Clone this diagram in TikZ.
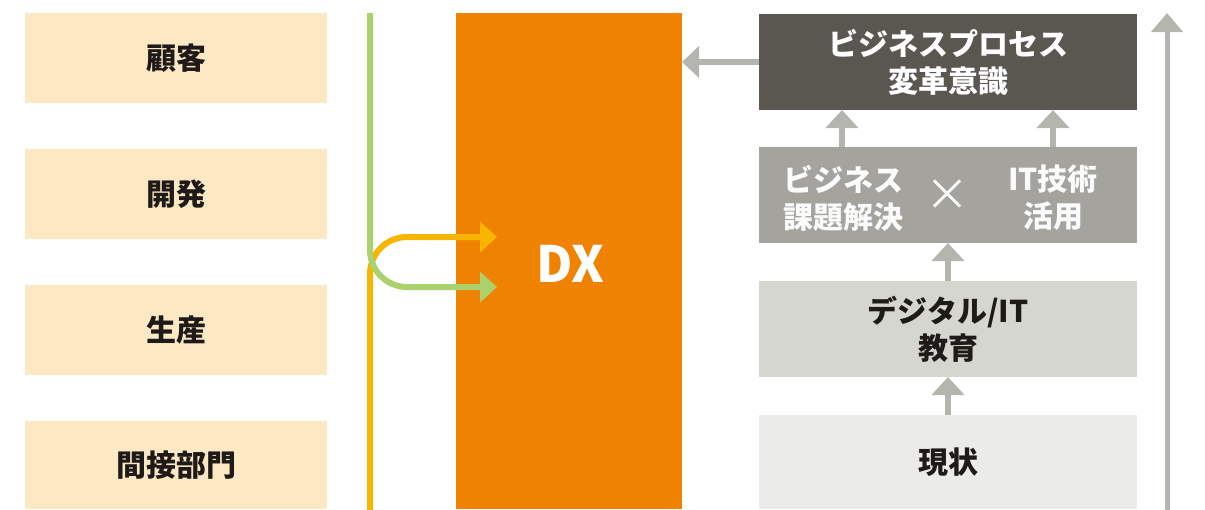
\documentclass[tikz,border=0pt]{standalone}
\usepackage{fontspec}
\setmainfont{Noto Sans CJK JP}
\usetikzlibrary{arrows.meta}
\definecolor{cream}{HTML}{FDE8C4}
\definecolor{dxorange}{HTML}{EF8200}
\definecolor{lgreen}{HTML}{ABD16C}
\definecolor{lyellow}{HTML}{F8B500}
\definecolor{dgray}{HTML}{5A5750}
\definecolor{mgray}{HTML}{A4A39D}
\definecolor{lgray}{HTML}{D6D6D1}
\definecolor{xlgray}{HTML}{EBEBE9}
\definecolor{agray}{HTML}{B4B5AF}
\definecolor{ink}{HTML}{1E1A18}
\begin{document}
\begin{tikzpicture}[x=1pt,y=-1pt,
  box/.style={inner sep=0pt, outer sep=0pt, align=center, font=\fontsize{30}{37}\selectfont\bfseries},
  leftbox/.style={box, fill=cream, text=ink, minimum width=302pt, minimum height=90pt},
  rightbox/.style={box, minimum width=378pt},
  flow/.style={line width=6pt, rounded corners=37pt, -{Triangle[length=17pt,width=30pt]}},
  garrow/.style={agray, line width=6pt, -{Triangle[length=18pt,width=32pt]}},
  bigarrow/.style={agray, line width=5pt, -{Triangle[length=19pt,width=31pt]}}
]
\useasboundingbox (0,0) rectangle (1205,509);
% left boxes
\node[leftbox] (kokyaku) at (176,58) {顧客};
\node[leftbox] (kaihatsu) at (176,194) {開発};
\node[leftbox] (seisan) at (176,330) {生産};
\node[leftbox, minimum height=88pt] (kansetsu) at (176,465) {間接部門};
% DX box
\node[box, fill=dxorange, minimum width=226pt, minimum height=496pt] (dx) at (569,261) {};
\node[box, text=white, font=\fontsize{50}{50}\selectfont\bfseries] (dxlabel) at (570,264) {DX};
% flows
\coordinate (ystart) at (370,512);
\coordinate (yend) at (497,237);
\coordinate (gstart) at (370,13);
\coordinate (gend) at (497,287);
\draw[flow, lyellow] (ystart) |- (yend);
\draw[flow, lgreen] (gstart) |- (gend);
% right boxes
\node[rightbox, fill=dgray, text=white, minimum height=96pt] (dark) at (948,62) {ビジネスプロセス\\変革意識};
\node[rightbox, fill=mgray, minimum height=96pt] (mid) at (948,195) {};
\node[box, text=white!96!mgray] (biz) at (843,198) {ビジネス\\課題解決};
\node[box, text=white!96!mgray, font=\fontsize{44}{44}\selectfont] (times) at (947,195) {×};
\node[box, text=white!96!mgray] (it) at (1053,198) {IT技術\\活用};
\node[rightbox, fill=lgray, text=ink, minimum height=96pt] (edu) at (948,329) {デジタル/IT\\教育};
\node[rightbox, fill=xlgray, text=ink, minimum height=94pt] (now) at (948,462) {現状};
% gray arrows
\draw[garrow] (now.north) -- (edu.south);
\draw[garrow] (edu.north) -- (mid.south);
\draw[garrow] ([xshift=-106pt]mid.north) -- ([xshift=-106pt]dark.south);
\draw[garrow] ([xshift=105pt]mid.north) -- ([xshift=105pt]dark.south);
\draw[garrow, -{Triangle[length=17pt,width=31pt]}] (dark.west) -- (dark.west -| dx.east);
% tall arrow
\coordinate (tb) at (1167,512);
\coordinate (tt) at (1167,13);
\draw[bigarrow] (tb) -- (tt);
\end{tikzpicture}
\end{document}
